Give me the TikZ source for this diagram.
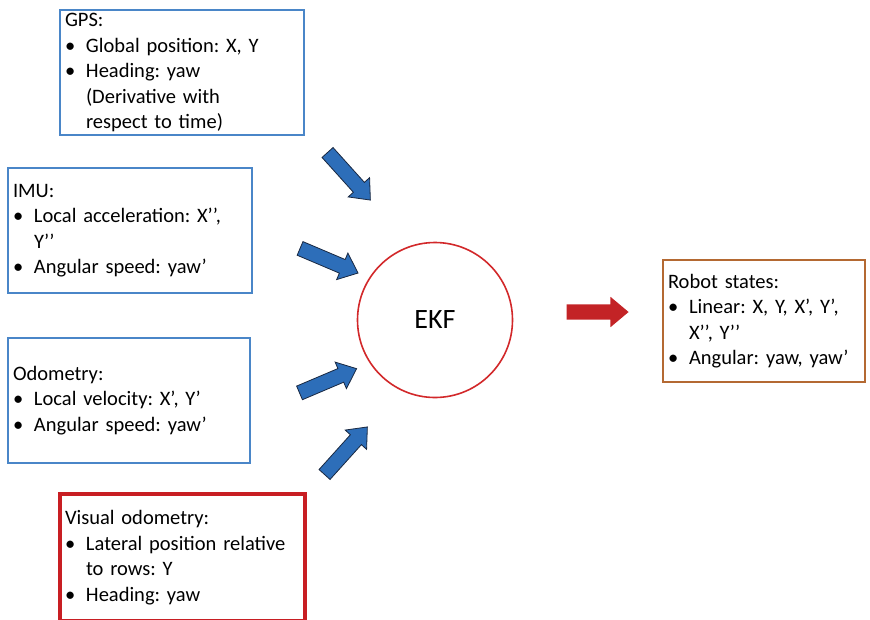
\documentclass[tikz,border=0pt]{standalone}
\usepackage{fontspec}
\setmainfont{Carlito}
\usetikzlibrary{shapes.geometric,shapes.arrows}
\definecolor{boxblue}{RGB}{74,134,200}
\definecolor{boxred}{RGB}{200,30,35}
\definecolor{boxbrown}{RGB}{180,105,50}
\definecolor{ekfred}{RGB}{210,40,42}
\definecolor{arrowblue}{RGB}{45,110,185}
\definecolor{arrowedge}{RGB}{25,40,65}
\definecolor{arrowred}{RGB}{195,35,38}
\newcommand{\bul}{\makebox[21pt][l]{\textbullet}}
\newcommand{\ind}{\hspace*{21pt}}
\begin{document}
\begin{tikzpicture}[x=1pt,y=-1pt,
  every node/.style={font=\fontsize{20.5}{25.5}\selectfont\frenchspacing},
  srcbox/.style={rectangle, draw=boxblue, line width=1.5pt, inner xsep=5pt, inner ysep=0pt, align=left, anchor=center},
  blockarrow/.style={single arrow, draw=arrowedge, fill=arrowblue, line width=0.8pt, single arrow head extend=7pt, single arrow tip angle=80, inner xsep=0pt, inner ysep=7pt, anchor=center},
]
\useasboundingbox (0,0) rectangle (870,619);

\node[srcbox, text width=234pt, minimum height=125pt] (gps) at (182,72.5)
 {GPS:\\ \bul Global position: X, Y\\ \bul Heading: yaw\\ \ind(Derivative with\\ \ind respect to time)};
\node[srcbox, text width=234pt, minimum height=125pt] (imu) at (130,230.5)
 {IMU:\\ \bul Local acceleration: X’’,\\ \ind Y’’\\ \bul Angular speed: yaw’};
\node[srcbox, text width=232pt, minimum height=125pt] (odo) at (129,400.5)
 {Odometry:\\ \bul Local velocity: X’, Y’\\ \bul Angular speed: yaw’};
\node[srcbox, draw=boxred, line width=3.5pt, text width=235pt, minimum height=127pt] (vo) at (182.5,557.5)
 {Visual odometry:\\ \bul Lateral position relative\\ \ind to rows: Y\\ \bul Heading: yaw};
\node[srcbox, draw=boxbrown, line width=2pt, text width=192pt, minimum height=122pt] (rs) at (764,321)
 {Robot states:\\ \bul Linear: X, Y, X’, Y’,\\ \ind X’’, Y’’\\ \bul Angular: yaw, yaw’};

\node[ellipse, draw=ekfred, line width=1.6pt, minimum width=155pt, minimum height=155pt, font=\fontsize{28}{32}\selectfont] (ekf) at (435,320) {EKF};

\node[blockarrow, minimum height=64pt, rotate=-48] (a1) at (346,173) {};
\node[blockarrow, minimum height=63pt, rotate=-23] (a2) at (325,259) {};
\node[blockarrow, minimum height=62pt, rotate=23] (a3) at (324,382.5) {};
\node[blockarrow, minimum height=64pt, rotate=48] (a4) at (343,454) {};
\node[single arrow, fill=arrowred, single arrow head extend=7.5pt, single arrow tip angle=80, inner xsep=0pt, inner ysep=7.5pt, minimum height=62pt, anchor=center] (out) at (593,312) {};
\end{tikzpicture}
\end{document}
